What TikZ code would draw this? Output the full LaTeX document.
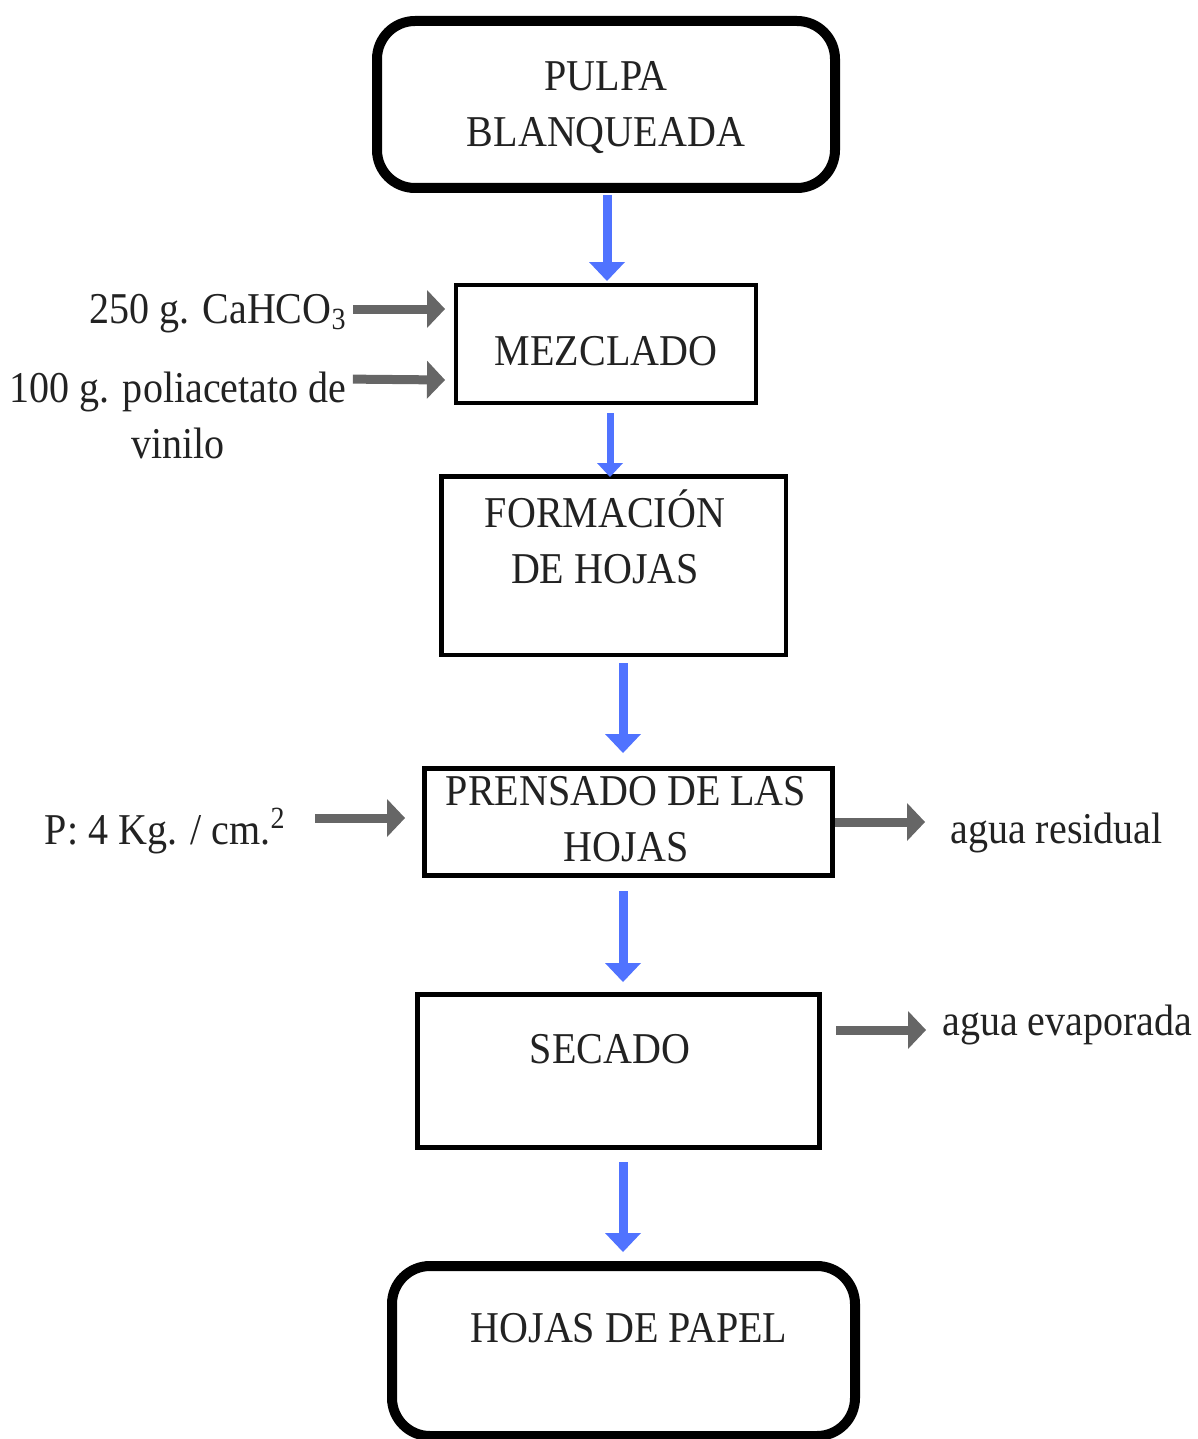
\documentclass[tikz,border=0pt]{standalone}
\usepackage{fontspec}
\setmainfont{Liberation Serif}[FakeStretch=0.91]
\usetikzlibrary{arrows.meta, calc}
\definecolor{flowblue}{RGB}{80,115,255}
\definecolor{sidegray}{RGB}{102,102,102}
\definecolor{inkblack}{RGB}{34,34,34}
\tikzset{
  endbox/.style={draw, line width=5pt, rounded corners=19pt, inner sep=0pt},
  stepbox/.style={draw, line width=#1, inner sep=0pt},
  stepbox/.default=2pt,
  txt/.style={inner sep=0pt, text=inkblack, align=center, font=\fontsize{22}{28}\selectfont},
  flow/.style={draw=flowblue, line width=4.5pt, -{Triangle[width=18pt, length=9.5pt, line width=0pt]}},
  side/.style={draw=sidegray, line width=4.5pt, -{Triangle[width=19pt, length=9pt, line width=0pt]}},
}
\begin{document}
\begin{tikzpicture}[x=0.5pt, y=-0.5pt]
	\useasboundingbox (0,0) rectangle (1198,1439);

	% process boxes
	\node[endbox, minimum width=229pt, minimum height=83.5pt] (pulpa) at (606,104.5) {};
	\node[stepbox=2pt, minimum width=150pt, minimum height=59pt] (mezclado) at (606,344) {};
	\node[stepbox=2.25pt, minimum width=172.25pt, minimum height=89.25pt] (formacion) at (613.5,565.5) {};
	\node[stepbox=2.5pt, minimum width=204pt, minimum height=53.5pt] (prensado) at (628.5,822) {};
	\node[stepbox=2.5pt, minimum width=201pt, minimum height=76.5pt] (secado) at (618.5,1071) {};
	\node[endbox, minimum width=231.5pt, minimum height=85pt] (papel) at (623.5,1351) {};

	% texts
	\node[txt] (pulpaT) at (606,108) {PULPA\\BLANQUEADA};
	\node[txt, anchor=base] (mezcladoT) at (606,365) {MEZCLADO};
	\node[txt] (formacionT) at (605,536.5) {FORMACIÓN\\DE HOJAS};
	\node[txt] (prensadoT) at (626,819) {PRENSADO DE LAS\\HOJAS};
	\node[txt, anchor=base] (secadoT) at (610,1063) {SECADO};
	\node[txt, anchor=base] (papelT) at (629,1342) {HOJAS DE PAPEL};

	\node[txt, anchor=base east] (caco) at (347,323) {250 g. CaHCO\textsubscript{3}};
	\node[txt] (pva) at (178,415) {100 g. poliacetato de\\vinilo};
	\node[txt, anchor=base east] (presion) at (286,844) {P: 4 Kg. / cm.\textsuperscript{2}};
	\node[txt, anchor=base west] (residual) at (950,843) {agua residual};
	\node[txt, anchor=base west] (evaporada) at (942,1035) {agua evaporada};

	% main flow
	\draw[flow] ($(pulpa.south)+(1,2)$) -- ($(mezclado.north)+(1,-2)$);
	\draw[flow, line width=3.5pt, -{Triangle[width=13pt, length=7pt, line width=0pt]}]
		($(mezclado.south)+(4,8)$) -- ($(formacion.north)+(-3.5,3)$);
	\draw[flow] ($(formacion.south)+(9.5,6)$) -- ($(prensado.north)+(-5.5,-13)$);
	\draw[flow] ($(prensado.south)+(-5.5,13)$) -- ($(secado.north)+(4.5,-10)$);
	\draw[flow] ($(secado.south)+(4.5,12)$) -- ($(papel.north)+(-0.5,-9)$);

	% inputs and outputs
	\draw[side] ($(caco.base east)+(6,-14)$) -- ($(mezclado.west)+(-9,-35)$);
	\draw[side] ($(pva.north east)+(6,8)$) -- ($(mezclado.west)+(-9,36)$);
	\draw[side] ($(presion.base east)+(29,-26)$) -- ($(prensado.west)+(-17,-4)$);
	\draw[side] (prensado.east) -- ($(residual.base west)+(-25,-21)$);
	\draw[side] ($(secado.east)+(14,-41)$) -- ($(evaporada.base west)+(-16,-5)$);
\end{tikzpicture}
\end{document}
